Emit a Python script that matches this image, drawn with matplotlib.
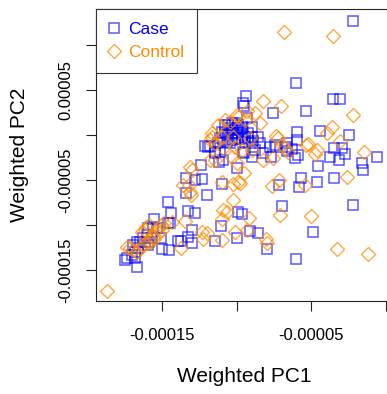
import numpy as np
import matplotlib
matplotlib.use('Agg')
import matplotlib.pyplot as plt
from matplotlib.lines import Line2D

plt.rcParams['font.family'] = ['Liberation Sans', 'DejaVu Sans']
plt.rcParams['axes.unicode_minus'] = False

# values in units of 1e-5
case_pc1 = [-2.17, -6.03, -9.36, -9.54, -9.48, -7.57, -5.36, -3.55, -3.06, -9.32,
            -8.96, -5.92, -4.40, -2.49, -8.54, -8.87, -7.42, -7.35, -7.75, -6.64,
            -5.97, -6.68, -6.30, -6.60, -6.08, -5.90, -3.47, -2.95, -3.73, -3.11,
            -2.73, -1.61, -1.50, -0.56, -4.52, -5.70, -4.62, -3.47, -5.79, -2.17,
            -6.97, -4.85, -6.03, -9.48, -8.98, -8.24, -7.67, -9.97, -10.88, -11.15,
            -12.11, -11.78, -11.44, -11.11, -12.40, -13.40, -12.78, -12.31, -10.99, -12.00,
            -13.38, -7.15, -9.88, -9.61, -12.78, -11.06, -9.10, -8.54, -9.99, -11.44,
            -13.00, -13.00, -7.94, -14.61, -14.39, -13.27, -14.61, -15.51, -14.46, -15.95,
            -15.58, -15.35, -15.06, -13.27, -13.94, -13.72, -15.01, -14.50, -16.02, -16.25,
            -16.13, -15.68, -16.47, -16.69, -16.92, -16.58, -16.80, -17.02, -17.36, -17.47,
            -16.80, -16.69, -15.95, -15.84,
            -10.77, -10.55, -10.32, -10.10, -9.88, -9.65, -10.44, -10.21, -9.99, -9.77,
            -9.54, -10.99, -10.77, -10.55, -10.32, -9.99, -9.65, -9.43, -11.11, -10.88,
            -10.66, -10.32, -10.10, -9.88, -9.65, -9.21, -11.22, -10.44, -9.43, -8.98,
            -9.21, -8.98, -11.89, -11.44, -9.54, -8.76, -8.42]
case_pc2 = [12.70, 5.74, 4.33, 3.52, 3.22, 2.41, 2.67, 3.97, 3.97, 1.86,
            0.92, 0.28, 0.44, 0.00, -0.19, -0.67, -1.11, -1.33, -1.30, -0.92,
            -0.56, -1.30, -1.56, -1.74, -2.59, -2.22, -1.41, -1.41, -2.41, -2.78,
            -2.11, -3.14, -3.89, -2.41, -3.41, -4.81, -5.19, -4.81, -5.74, -7.78,
            -7.86, -10.74, -13.78, -2.00, -2.41, -2.03, -2.48, -3.61, -2.78, -2.97,
            -1.22, -1.22, -1.86, -1.86, -3.33, -4.74, -5.00, -4.94, -5.44, -6.67,
            -6.48, -5.56, -8.59, -8.81, -8.70, -10.08, -10.67, -10.92, -11.48, -11.74,
            -10.56, -12.03, -12.70, -7.48, -8.70, -8.44, -9.74, -9.33, -9.81, -10.37,
            -10.19, -10.37, -11.41, -11.30, -11.78, -11.78, -12.67, -12.78, -11.11, -11.48,
            -11.86, -11.48, -11.86, -11.86, -12.22, -12.59, -12.97, -13.33, -13.70, -13.89,
            -13.70, -14.63, -12.22, -11.86,
            1.11, 1.11, 1.30, 1.30, 1.11, 0.92, 0.74, 0.56, 0.74, 0.56,
            0.37, 0.37, 0.19, 0.00, 0.19, 0.19, 0.00, -0.19, -0.37, -0.56,
            -0.74, -0.56, -0.48, -0.37, -0.48, -0.37, -0.92, -0.92, -0.74, -0.92,
            0.19, -0.19, -1.30, -2.03, -1.86, -1.67, -0.92]

control_pc1 = [-6.82, -3.51, -8.24, -7.04, -2.21, -8.42, -3.58, -3.95, -9.32, -7.35,
               -7.22, -5.34, -5.19, -4.62, -4.74, -3.06, -1.45, -2.57, -7.53, -6.53,
               -6.73, -9.50, -9.88, -10.21, -9.77, -10.99, -7.65, -7.15, -5.41, -10.32,
               -11.66, -11.78, -11.44, -13.00, -13.57, -10.27, -13.12, -9.99, -8.20, -10.88,
               -10.62, -9.14, -7.08, -10.99, -12.33, -12.00, -12.23, -10.95, -10.10, -9.28,
               -8.02, -7.94, -5.01, -3.28, -1.21, -6.97, -13.16, -13.05, -13.43, -13.72,
               -14.84, -15.06, -15.84, -16.07, -15.62, -15.51, -17.34, -17.14, -16.92, -16.69,
               -16.47, -16.25, -16.02, -15.80, -15.24, -15.01, -14.34, -16.35, -16.13, -18.70,
               -15.24, -8.76, -9.43, -9.88, -10.77, -11.22, -11.66, -11.78, -11.44, -10.88,
               -10.10, -9.65, -8.98, -9.09, -10.44, -10.21, -10.99, -9.99, -13.12]
control_pc2 = [11.41, 11.00, 3.78, 3.19, 2.22, 1.30, 0.86, 0.26, 2.72, -0.08,
               -0.28, -1.14, -1.00, -1.67, -2.11, -0.63, -1.94, -4.61, -2.59, -1.86,
               -1.48, -4.26, -5.19, -5.48, -5.30, -5.19, -5.61, -5.00, -5.59, -2.41,
               -0.19, -2.78, -2.78, -3.89, -5.56, -7.17, -6.33, -3.14, -2.78, -8.33,
               -8.52, -9.26, -8.89, -9.37, -10.74, -10.86, -11.59, -11.67, -10.74, -10.56,
               -11.56, -11.97, -9.00, -12.67, -13.22, -1.11, -5.56, -6.67, -9.56, -12.59,
               -9.81, -10.00, -10.00, -10.19, -11.30, -11.59, -12.41, -12.59, -12.78, -12.97,
               -12.59, -12.22, -12.03, -11.86, -10.92, -10.56, -9.63, -10.74, -10.56, -17.33,
               -10.37, 2.41, 1.67, 2.03, 1.67, 1.11, 0.19, -0.56, -0.92, -1.48,
               -1.30, -1.67, -1.67, -0.37, 1.48, -0.19, -0.19, 2.22, -3.52]

scale = 1e-5
blue = (0.0, 0.0, 1.0, 0.65)
orange = (1.0, 0.55, 0.0, 0.75)
sq_size = 6.8
dia_size = 7.0

fig = plt.figure(figsize=(3.87, 3.94), dpi=100)
ax = fig.add_axes([96 / 387, 93 / 394, 296 / 387, 292 / 394])

ax.plot(np.array(case_pc1) * scale, np.array(case_pc2) * scale, 's', ms=sq_size,
        mfc='none', mec=blue, mew=1.1, linestyle='none')
ax.plot(np.array(control_pc1) * scale, np.array(control_pc2) * scale, 'D', ms=dia_size,
        mfc='none', mec=orange, mew=1.0, linestyle='none')

ax.set_xlim(-19.42e-5, 0.42e-5)
ax.set_ylim(-18.44e-5, 14.0e-5)

ax.set_xticks([-15e-5, -10e-5, -5e-5, 0])
ax.set_xticklabels(['-0.00015', '', '-0.00005', ''])
ax.set_yticks([-15e-5, -10e-5, -5e-5, 0, 5e-5, 10e-5])
ax.set_yticklabels(['-0.00015', '', '-0.00005', '', '0.00005', ''])
ax.tick_params(axis='both', direction='out', length=7.5, width=0.8, labelsize=12,
               color='#222222')
ax.tick_params(axis='x', pad=12)
ax.tick_params(axis='y', pad=9)
for lab in ax.get_yticklabels():
    lab.set_rotation(90)
    lab.set_va('center')
for sp in ax.spines.values():
    sp.set_linewidth(0.8)
    sp.set_color('#222222')

fig.text(244 / 387, 1 - 376 / 394, 'Weighted PC1', ha='center', va='center', fontsize=15)
fig.text(20 / 387, 1 - 155 / 394, 'Weighted PC2', ha='center', va='center',
         fontsize=15, rotation=90)

handles = [Line2D([], [], marker='s', ms=sq_size, mfc='none', mec=blue, mew=1.1, linestyle='none'),
           Line2D([], [], marker='D', ms=dia_size, mfc='none', mec=orange, mew=1.0, linestyle='none')]
leg = ax.legend(handles, ['Case', 'Control'], loc='upper left', bbox_to_anchor=(0, 1),
                borderaxespad=0, fancybox=False, framealpha=1, edgecolor='#333333',
                fontsize=12.5, handletextpad=0.5, borderpad=0.75, labelspacing=0.45,
                handlelength=0.6)
leg.get_frame().set_linewidth(0.8)
leg.get_texts()[0].set_color('blue')
leg.get_texts()[1].set_color('darkorange')

fig.savefig('out.png', dpi=100)
